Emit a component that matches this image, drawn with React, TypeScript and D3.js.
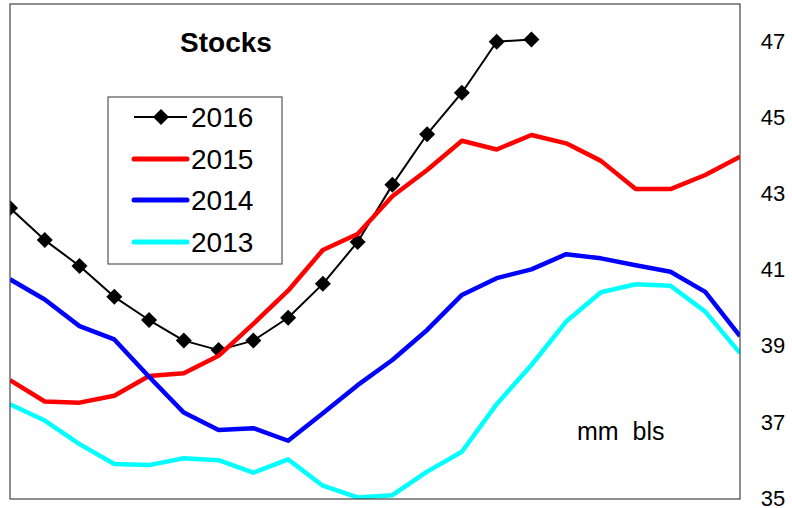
import React from "react";
import * as d3 from "d3";

const weeks = d3.range(22);
const s2016 = [42.64, 41.8, 41.12, 40.31, 39.7, 39.16, 38.91, 39.16, 39.76, 40.65, 41.75, 43.25, 44.58, 45.67, 47.01, 47.07];
const s2015 = [38.12, 37.56, 37.53, 37.71, 38.23, 38.3, 38.76, 39.6, 40.47, 41.54, 41.96, 42.95, 43.64, 44.41, 44.18, 44.56, 44.34, 43.88, 43.14, 43.14, 43.51, 43.99];
const s2014 = [40.77, 40.24, 39.54, 39.19, 38.21, 37.27, 36.81, 36.86, 36.53, 37.25, 37.99, 38.65, 39.44, 40.36, 40.8, 41.03, 41.43, 41.32, 41.14, 40.97, 40.44, 39.28];
const s2013 = [37.49, 37.06, 36.44, 35.92, 35.89, 36.07, 36.02, 35.69, 36.04, 35.35, 35.04, 35.1, 35.72, 36.24, 37.49, 38.52, 39.66, 40.43, 40.64, 40.6, 39.92, 38.83];
const yTicks = [35, 37, 39, 41, 43, 45, 47];
const seriesNames = ["2016", "2015", "2014", "2013"];
const seriesColors = ["#000000", "#ff0000", "#0000ff", "#00ffff"];
const seriesData = [s2016, s2015, s2014, s2013];
const titleText = "Stocks";
const unitText = "mm  bls";

export default function App() {
  const W = 792, H = 508;
  const left = 10, right = 740, top = 4, bottom = 499;
  const x = d3.scaleLinear().domain([0, weeks.length - 1]).range([left, right]);
  const y = d3.scaleLinear().domain([35, 48]).range([bottom, top]);
  const line = d3.line<number>().x((_, i) => x(i)).y((d) => y(d));
  const diamond = (cx: number, cy: number, r: number) =>
    `M${cx},${cy - r}L${cx + r},${cy}L${cx},${cy + r}L${cx - r},${cy}Z`;
  const font = "Arial, 'Liberation Sans', sans-serif";
  const legX = 108, legY = 97, legW = 174, legH = 167;
  const rowY = [117, 159, 200, 242];

  return (
    <svg width={W} height={H} style={{ position: "absolute", left: 0, top: 0, background: "#fff" }} fontFamily={font}>
      <rect x={0} y={0} width={W} height={H} fill="#fff" />
      <defs>
        <clipPath id="plot">
          <rect x={left} y={top} width={right - left} height={bottom - top} />
        </clipPath>
      </defs>
      <g clipPath="url(#plot)">
        {seriesData.map((d, si) => (
          <g key={si}>
            <path
              d={line(d) || ""}
              fill="none"
              stroke={seriesColors[si]}
              strokeWidth={si === 0 ? 2 : 4.5}
              strokeLinejoin="round"
            />
            {si === 0 && d.map((v, i) => <path key={i} d={diamond(x(i), y(v), 8)} fill="#000" />)}
          </g>
        ))}
      </g>
      <rect x={left} y={top} width={right - left} height={bottom - top} fill="none" stroke="#444" strokeWidth={1.2} />
      {yTicks.map((t) => (
        <text key={t} x={773} y={y(t) - 1} dy="0.35em" fontSize={22} textAnchor="middle" fill="#000">
          {t}
        </text>
      ))}
      <text x={226} y={42} dy="0.35em" fontSize={28} fontWeight="bold" textAnchor="middle">
        {titleText}
      </text>
      <text x={577} y={440} fontSize={25} style={{ whiteSpace: "pre" }}>
        {unitText}
      </text>
      <rect x={legX} y={legY} width={legW} height={legH} fill="#fff" stroke="#555" strokeWidth={1.2} />
      {seriesNames.map((n, i) => (
        <g key={n}>
          <line x1={134} x2={187} y1={rowY[i]} y2={rowY[i]} stroke={seriesColors[i]} strokeWidth={i === 0 ? 2 : 5} strokeLinecap={i === 0 ? "butt" : "round"} />
          {i === 0 && <path d={diamond(161, rowY[i], 8)} fill="#000" />}
          <text x={191} y={rowY[i]} dy="0.36em" fontSize={28}>
            {n}
          </text>
        </g>
      ))}
    </svg>
  );
}
